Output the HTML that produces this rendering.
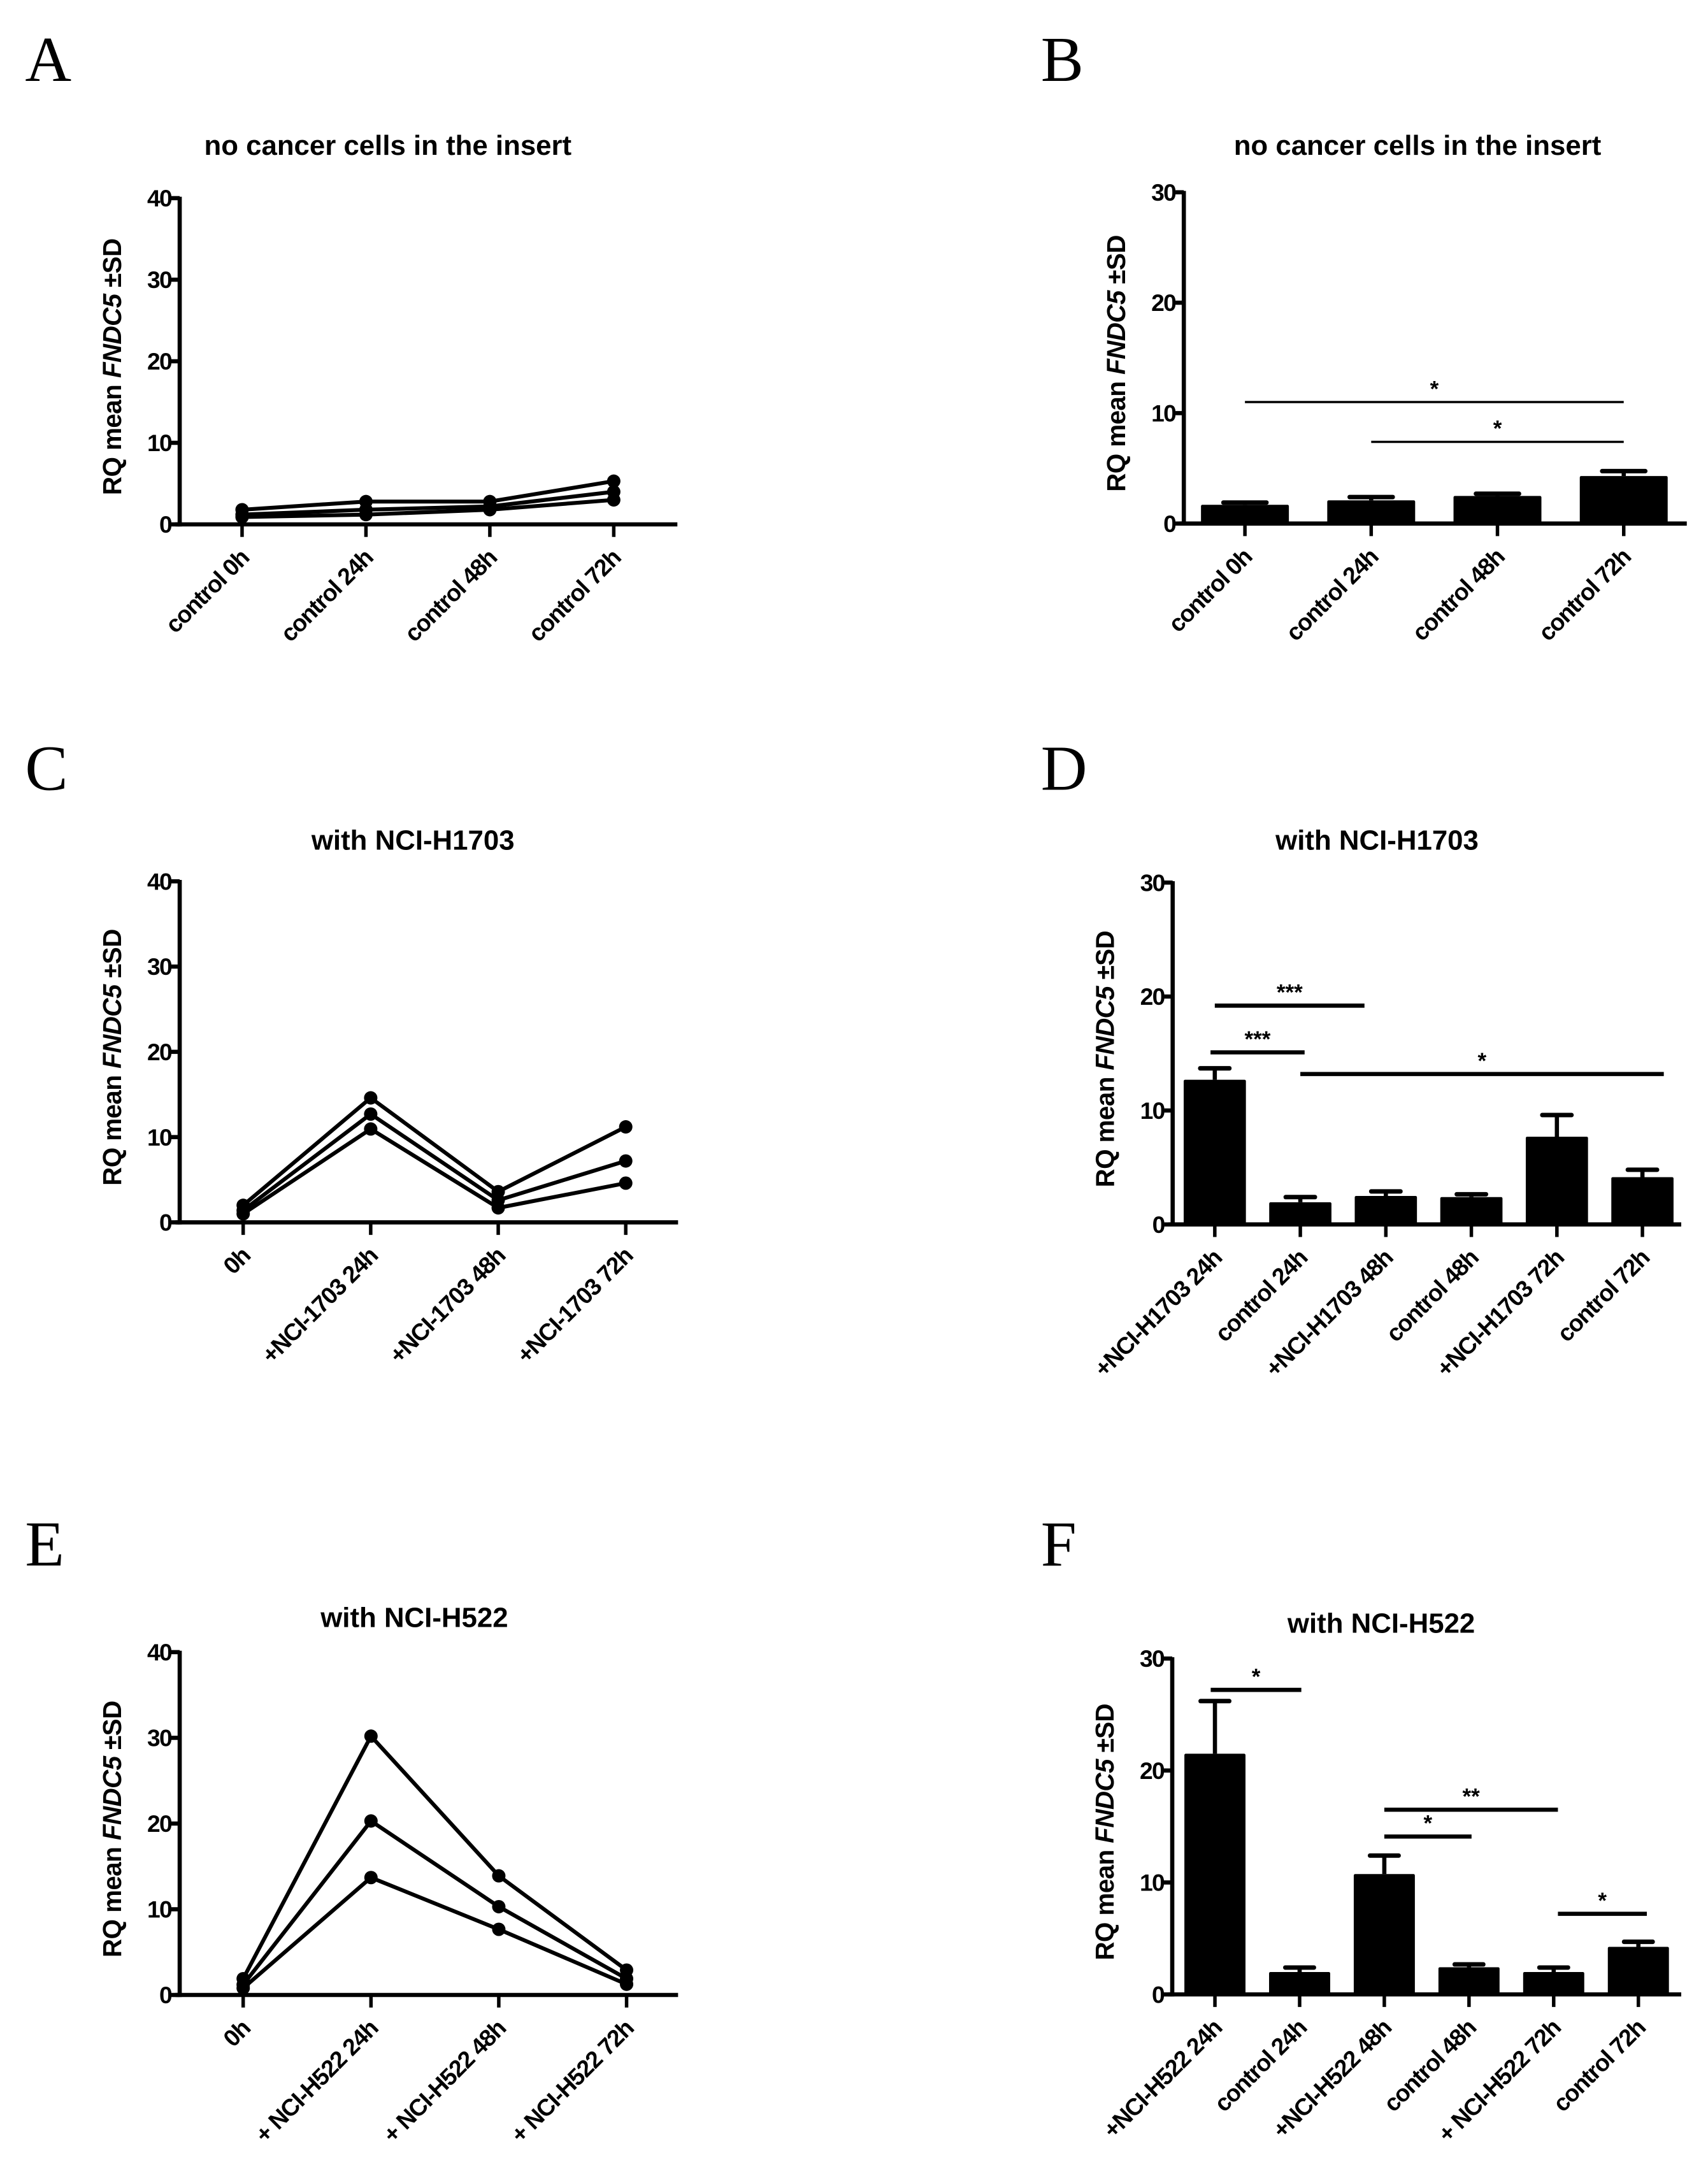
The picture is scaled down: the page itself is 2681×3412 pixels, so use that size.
<!DOCTYPE html>
<html><head><meta charset="utf-8"><style>
html,body{margin:0;padding:0;background:#fff;}
svg{display:block;}
text{font-family:"Liberation Sans",Arial,sans-serif;font-weight:bold;fill:#000;}
.letter{font-family:"Liberation Serif",serif;font-weight:normal;font-size:46px;}
</style></head><body>
<svg id="fig" xmlns="http://www.w3.org/2000/svg" width="2681" height="3412" viewBox="0 0 1224.2 1558" preserveAspectRatio="none"></svg>
<script>
// ---- Data ----
const catsA = ["control 0h","control 24h","control 48h","control 72h"];
const seriesA1 = [1.8, 2.8, 2.8, 5.3];
const seriesA2 = [1.2, 1.8, 2.2, 4.0];
const seriesA3 = [0.9, 1.2, 1.8, 3.0];
const ticksA = [0,10,20,30,40];

const catsB = ["control 0h","control 24h","control 48h","control 72h"];
const meansB = [1.7, 2.1, 2.5, 4.3];
const sdB = [0.2, 0.3, 0.2, 0.45];
const ticksB = [0,10,20,30];
const sigB = [[0,3,11.0,"*"],[1,3,7.4,"*"]];

const catsC = ["0h","+NCI-1703 24h","+NCI-1703 48h","+NCI-1703 72h"];
const seriesC1 = [2.0, 14.6, 3.6, 11.2];
const seriesC2 = [1.4, 12.7, 2.6, 7.2];
const seriesC3 = [1.0, 10.95, 1.7, 4.6];
const ticksC = [0,10,20,30,40];

const catsD = ["+NCI-H1703 24h","control 24h","+NCI-H1703 48h","control 48h","+NCI-H1703 72h","control 72h"];
const meansD = [12.7, 1.95, 2.5, 2.4, 7.7, 4.15];
const sdD = [1.0, 0.45, 0.4, 0.25, 1.9, 0.65];
const ticksD = [0,10,20,30];
const sigD = [[0,1.75,19.2,"***"],[-0.05,1.05,15.1,"***"],[1,5.25,13.2,"*"]];

const catsE = ["0h","+ NCI-H522 24h","+ NCI-H522 48h","+ NCI-H522 72h"];
const seriesE1 = [1.9, 30.2, 13.9, 2.9];
const seriesE2 = [1.2, 20.3, 10.3, 1.9];
const seriesE3 = [0.8, 13.7, 7.66, 1.25];
const ticksE = [0,10,20,30,40];

const catsF = ["+NCI-H522 24h","control 24h","+NCI-H522 48h","control 48h","+ NCI-H522 72h","control 72h"];
const meansF = [21.5, 2.0, 10.75, 2.43, 2.0, 4.25];
const sdF = [4.7, 0.4, 1.65, 0.25, 0.4, 0.45];
const ticksF = [0,10,20,30];
const sigF = [[-0.05,1.02,27.2,"*"],[2,4.05,16.5,"**"],[2,3.03,14.1,"*"],[4.05,5.1,7.2,"*"]];

// ---- Drawing helpers ----
const NS="http://www.w3.org/2000/svg";
const svg=document.getElementById('fig');
function mk(tag,attrs,parent){const e=document.createElementNS(NS,tag);for(const k in attrs)e.setAttribute(k,attrs[k]);(parent||svg).appendChild(e);return e;}

function panel(p){
  const g=mk('g',{});
  
  
  const yS=v=>p.y0-(v/p.ymax)*(p.y0-p.yTop);
  const xS=i=>p.x1+i*p.dx;
  const L=mk('text',{x:p.lx,y:p.ly,class:'letter'},g);L.textContent=p.letter;
  
  
  const T=mk('text',{x:p.tx,y:p.ty,'text-anchor':'middle','font-size':20},g);T.textContent=p.title;
  
  
  const ya=mk('line',{x1:p.ax,y1:p.yTop-1,x2:p.ax,y2:p.y0+1.5,stroke:'#000','stroke-width':3},g);
  
  
  const xa=mk('line',{x1:p.ax-3,y1:p.y0,x2:p.xEnd,y2:p.y0,stroke:'#000','stroke-width':3},g);
  
  
  p.ticks.forEach(t=>{
    mk('line',{x1:p.ax-6,y1:yS(t),x2:p.ax,y2:yS(t),stroke:'#000','stroke-width':3},g);
    const tl=mk('text',{x:p.ax-6,y:yS(t)+6,'text-anchor':'end','font-size':17,'letter-spacing':'-0.8'},g);
    tl.textContent=t;
    
    
  });
  const yl=mk('text',{transform:`translate(${p.ax-42},${(p.y0+p.yTop)/2+4}) rotate(-90)`,'text-anchor':'middle','font-size':18.5,'letter-spacing':'-0.3'},g);
  yl.innerHTML='RQ mean <tspan font-style="italic">FNDC5</tspan> ±SD';
  
  
  p.cats.forEach((c,i)=>{
    mk('line',{x1:xS(i),y1:p.y0,x2:xS(i),y2:p.y0+9,stroke:'#000','stroke-width':2.5},g);
    const tx=xS(i)+6, ty=p.y0+25;
    const lab=mk('text',{x:tx,y:ty,'text-anchor':'end','font-size':17,'letter-spacing':'-0.6',transform:`rotate(-45 ${tx} ${ty})`},g);
    lab.textContent=c;
    
    
  });
  if(p.series){
    p.series.forEach((s,si)=>{
      const pts=s.map((v,i)=>xS(i)+','+yS(v)).join(' ');
      const pl=mk('polyline',{points:pts,fill:'none',stroke:'#000','stroke-width':2.8,'stroke-linejoin':'round'},g);
      
      
      s.forEach((v,i)=>{
        const c=mk('circle',{cx:xS(i),cy:yS(v),r:4.8,fill:'#000'},g);
        
        
      });
    });
  }
  if(p.means){
    p.means.forEach((m,i)=>{
      const x=xS(i), bw=p.bw;
      const top=yS(m+p.sd[i]);
      mk('line',{x1:x,y1:yS(m),x2:x,y2:top,stroke:'#000','stroke-width':3},g);
      mk('rect',{x:x-bw*0.27,y:top-1.6,width:bw*0.54,height:3.2,rx:1.5,fill:'#000'},g);
      const r=mk('rect',{x:x-bw/2,y:yS(m),width:bw,height:p.y0-yS(m),fill:'#000',rx:1},g);
      
      
    });
  }
  if(p.sig){
    p.sig.forEach(s=>{
      const xa1=xS(s[0]), xa2=xS(s[1]), y=yS(s[2]);
      const ln=mk('line',{x1:xa1,y1:y,x2:xa2,y2:y,stroke:'#000','stroke-width':p.sigW},g);
      
      
      const st=mk('text',{x:(xa1+xa2)/2,y:y-4,'text-anchor':'middle','font-size':16,'font-weight':'normal'},g);
      st.textContent=s[3];
      
      
    });
  }
}

panel({name:'panel-a',letter:'A',lx:18,ly:58,title:'no cancer cells in the insert',tx:278,ty:111,
  ax:128.8,y0:375.8,yTop:142,ymax:40,ticks:ticksA,x1:173.5,dx:88.8,xEnd:485.5,cats:catsA,
  series:[seriesA1,seriesA2,seriesA3]});
panel({name:'panel-b',letter:'B',lx:746,ly:58,title:'no cancer cells in the  insert',tx:1016,ty:111,
  ax:848.5,y0:375.2,yTop:137.8,ymax:30,ticks:ticksB,x1:892.3,dx:90.5,xEnd:1209,cats:catsB,
  means:meansB,sd:sdB,bw:63,sig:sigB,sigW:1.6});
panel({name:'panel-c',letter:'C',lx:18,ly:566,title:'with NCI-H1703',tx:296,ty:609,
  ax:128.8,y0:876,yTop:631.6,ymax:40,ticks:ticksC,x1:174.3,dx:91.4,xEnd:486,cats:catsC,
  series:[seriesC1,seriesC2,seriesC3]});
panel({name:'panel-d',letter:'D',lx:746,ly:566,title:'with NCI-H1703',tx:987,ty:609,
  ax:840.5,y0:877.5,yTop:632.5,ymax:30,ticks:ticksD,x1:870.7,dx:61.3,xEnd:1205,cats:catsD,
  means:meansD,sd:sdD,bw:44.6,sig:sigD,sigW:3});
panel({name:'panel-e',letter:'E',lx:18,ly:1122,title:'with NCI-H522',tx:297,ty:1166,
  ax:128.8,y0:1429.7,yTop:1184,ymax:40,ticks:ticksE,x1:174.3,dx:91.6,xEnd:486,cats:catsE,
  series:[seriesE1,seriesE2,seriesE3]});
panel({name:'panel-f',letter:'F',lx:746,ly:1122,title:'with NCI-H522',tx:990,ty:1170,
  ax:840.2,y0:1429.3,yTop:1188.6,ymax:30,ticks:ticksF,x1:870.8,dx:60.7,xEnd:1205,cats:catsF,
  means:meansF,sd:sdF,bw:43.8,sig:sigF,sigW:3});
</script>
</body></html>
